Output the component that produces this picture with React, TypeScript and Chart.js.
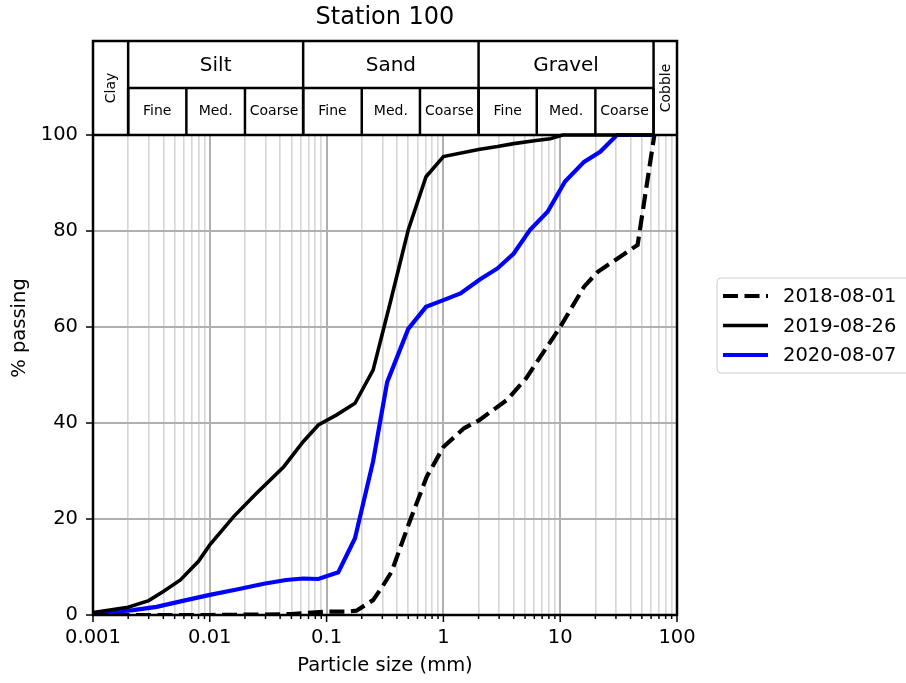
import React, { useEffect, useRef } from 'react';
import { Chart, registerables } from 'chart.js';

Chart.register(...registerables);

// ---------- data ----------
const seriesLabels = ['2018-08-01', '2019-08-26', '2020-08-07'];

const size2018 = [0.001, 0.01, 0.03, 0.05, 0.075, 0.1, 0.15, 0.18, 0.25, 0.3, 0.36, 0.52, 0.72, 1.0, 1.5, 2.0, 3.5, 5.1, 10, 16, 21, 46, 64];
const pass2018 = [0, 0, 0.1, 0.2, 0.5, 0.7, 0.7, 0.9, 3.1, 5.9, 9, 19.8, 28.8, 35, 38.9, 40.5, 44.8, 49.3, 60, 68.4, 71.5, 77.1, 100];

const size2019 = [0.001, 0.002, 0.003, 0.004, 0.0056, 0.008, 0.01, 0.016, 0.025, 0.043, 0.063, 0.085, 0.122, 0.175, 0.25, 0.35, 0.5, 0.71, 1.0, 2.0, 2.9, 4, 6, 8.2, 10.5, 64];
const pass2019 = [0.5, 1.6, 3.0, 4.9, 7.3, 11.2, 14.6, 20.5, 25.3, 30.9, 36.1, 39.6, 41.7, 44.1, 51, 65, 80.2, 91.3, 95.5, 97, 97.6, 98.2, 98.8, 99.2, 100, 100];

const size2020 = [0.001, 0.0022, 0.0035, 0.006, 0.01, 0.017, 0.029, 0.045, 0.063, 0.085, 0.126, 0.175, 0.25, 0.33, 0.5, 0.71, 1.0, 1.4, 2.05, 2.9, 4, 5.5, 7.8, 11, 16, 22, 30.6, 64];
const pass2020 = [0.3, 1.0, 1.7, 3.0, 4.2, 5.3, 6.5, 7.3, 7.6, 7.5, 8.9, 16, 32, 48.5, 59.6, 64.2, 65.6, 67, 69.9, 72.2, 75.3, 80.2, 84, 90.3, 94.4, 96.5, 100, 100];

const xMajorTicks = [0.001, 0.01, 0.1, 1, 10, 100];
const xMajorLabels = ['0.001', '0.01', '0.1', '1', '10', '100'];
const xMinorMultipliers = [2, 3, 4, 5, 6, 7, 8, 9];
const yTicks = [0, 20, 40, 60, 80, 100];

const classNames = ['Silt', 'Sand', 'Gravel'];
const classBounds = [0.002, 0.063, 2, 63];
const subNames = ['Fine', 'Med.', 'Coarse'];
const subBounds = [0.002, 0.0063, 0.02, 0.063, 0.2, 0.63, 2, 6.3, 20, 63];
const sideNames = ['Clay', 'Cobble'];
const sideBounds = [[0.001, 0.002], [63, 100]];

const titleText = 'Station 100';
const xTitle = 'Particle size (mm)';
const yTitle = '% passing';

// ---------- layout constants ----------
const W = 906;
const H = 683;
const FONT = "'DejaVu Sans', 'Liberation Sans', sans-serif";
const PX_PER_PCT = 4.8;
const HEADER_PX = 94;
const Y_MAX = 100 + HEADER_PX / PX_PER_PCT;

const isMajor = (v: number) => xMajorTicks.some((m) => Math.abs(v / m - 1) < 1e-6);

const toPoints = (xs: number[], ys: number[]) => xs.map((x, i) => ({ x, y: ys[i] }));

const headerPlugin = {
  id: 'gradationHeader',
  beforeDatasetsDraw(chart: any) {
    const { ctx, chartArea } = chart;
    const xs = chart.scales.x;
    const ys = chart.scales.y;
    const top = chartArea.top;
    const bottom = ys.getPixelForValue(100);
    const mid = (top + bottom) / 2;
    const px = (v: number) => xs.getPixelForValue(v);
    ctx.save();
    ctx.fillStyle = '#ffffff';
    ctx.fillRect(chartArea.left, top, chartArea.right - chartArea.left, bottom - top);
    ctx.strokeStyle = '#000000';
    ctx.lineWidth = 2.5;
    const line = (x1: number, y1: number, x2: number, y2: number) => {
      ctx.beginPath();
      ctx.moveTo(x1, y1);
      ctx.lineTo(x2, y2);
      ctx.stroke();
    };
    line(px(classBounds[0]), mid, px(classBounds[classBounds.length - 1]), mid);
    line(chartArea.left, bottom, chartArea.right, bottom);
    classBounds.forEach((b) => line(px(b), top, px(b), bottom));
    subBounds.forEach((b) => line(px(b), mid, px(b), bottom));

    ctx.fillStyle = '#000000';
    ctx.textAlign = 'center';
    ctx.textBaseline = 'middle';
    ctx.font = `20px ${FONT}`;
    classNames.forEach((n, i) => {
      const cx = (px(classBounds[i]) + px(classBounds[i + 1])) / 2;
      ctx.fillText(n, cx, (top + mid) / 2 + 1);
    });
    ctx.font = `14px ${FONT}`;
    for (let i = 0; i < subBounds.length - 1; i++) {
      const cx = (px(subBounds[i]) + px(subBounds[i + 1])) / 2;
      ctx.fillText(subNames[i % 3], cx, (mid + bottom) / 2);
    }
    sideNames.forEach((n, i) => {
      const cx = (px(sideBounds[i][0]) + px(sideBounds[i][1])) / 2;
      ctx.save();
      ctx.translate(cx + 1, (top + bottom) / 2);
      ctx.rotate(-Math.PI / 2);
      ctx.fillText(n, 0, 0);
      ctx.restore();
    });
    ctx.restore();
  },
  afterDraw(chart: any) {
    const { ctx, chartArea } = chart;
    const xs = chart.scales.x;
    const ys = chart.scales.y;
    ctx.save();
    ctx.strokeStyle = '#000000';
    ctx.lineWidth = 2.5;
    ctx.strokeRect(chartArea.left, chartArea.top, chartArea.right - chartArea.left, chartArea.bottom - chartArea.top);
    ctx.lineWidth = 1.5;
    xs.ticks.forEach((t: any) => {
      const p = xs.getPixelForValue(t.value);
      const len = isMajor(t.value) ? 7 : 4;
      ctx.beginPath();
      ctx.moveTo(p, chartArea.bottom);
      ctx.lineTo(p, chartArea.bottom + len);
      ctx.stroke();
    });
    ys.ticks.forEach((t: any) => {
      const p = ys.getPixelForValue(t.value);
      ctx.beginPath();
      ctx.moveTo(chartArea.left - 7, p);
      ctx.lineTo(chartArea.left, p);
      ctx.stroke();
    });
    // legend
    const lx = 717;
    const ly = 278;
    const lw = 205;
    const lh = 95;
    ctx.beginPath();
    if ((ctx as any).roundRect) (ctx as any).roundRect(lx, ly, lw, lh, 4);
    else ctx.rect(lx, ly, lw, lh);
    ctx.fillStyle = 'rgba(255,255,255,0.8)';
    ctx.fill();
    ctx.strokeStyle = '#cccccc';
    ctx.lineWidth = 1;
    ctx.stroke();
    const rowY = [296, 325.5, 355];
    ctx.font = `19.5px ${FONT}`;
    ctx.textAlign = 'left';
    ctx.textBaseline = 'middle';
    chart.data.datasets.forEach((ds: any, i: number) => {
      const y = rowY[i];
      ctx.beginPath();
      ctx.strokeStyle = ds.borderColor;
      ctx.lineWidth = ds.borderWidth;
      ctx.setLineDash(ds.borderDash || []);
      ctx.moveTo(723, y);
      ctx.lineTo(768, y);
      ctx.stroke();
      ctx.setLineDash([]);
      ctx.fillStyle = '#000000';
      ctx.fillText(ds.label, 783, y + 1);
    });
    ctx.restore();
  },
};

export default function App() {
  const canvasRef = useRef<HTMLCanvasElement | null>(null);

  useEffect(() => {
    const canvas = canvasRef.current;
    if (!canvas) return;
    Chart.defaults.font.family = FONT;
    const chart = new Chart(canvas, {
      type: 'line',
      data: {
        datasets: [
          {
            label: seriesLabels[0],
            data: toPoints(size2018, pass2018),
            borderColor: '#000000',
            borderWidth: 4.2,
            borderDash: [15, 6.5],
            pointRadius: 0,
            fill: false,
            tension: 0,
          },
          {
            label: seriesLabels[1],
            data: toPoints(size2019, pass2019),
            borderColor: '#000000',
            borderWidth: 3.6,
            pointRadius: 0,
            fill: false,
            tension: 0,
          },
          {
            label: seriesLabels[2],
            data: toPoints(size2020, pass2020),
            borderColor: '#0000ff',
            borderWidth: 4.2,
            pointRadius: 0,
            fill: false,
            tension: 0,
          },
        ],
      },
      options: {
        responsive: false,
        animation: false,
        devicePixelRatio: 1,
        layout: { padding: { left: 0, right: W - 677, top: 0, bottom: 0 } },
        plugins: {
          legend: { display: false },
          tooltip: { enabled: false },
          title: {
            display: true,
            text: titleText,
            fullSize: false,
            color: '#000000',
            font: { family: FONT, size: 24, weight: 'normal', lineHeight: 1.2 },
            padding: { top: 3, bottom: 9.2 },
          },
        },
        scales: {
          x: {
            type: 'logarithmic',
            min: 0.001,
            max: 100,
            afterBuildTicks: (scale: any) => {
              const ticks: any[] = [];
              xMajorTicks.forEach((m, i) => {
                ticks.push({ value: m, major: true });
                if (i < xMajorTicks.length - 1) {
                  xMinorMultipliers.forEach((k) => ticks.push({ value: Number((m * k).toPrecision(4)) }));
                }
              });
              scale.ticks = ticks;
            },
            afterFit: (scale: any) => {
              scale.height = 68;
            },
            ticks: {
              autoSkip: false,
              maxRotation: 0,
              minRotation: 0,
              padding: 11,
              color: '#000000',
              font: { family: FONT, size: 19.5 },
              callback: (value: any) => {
                const idx = xMajorTicks.findIndex((m) => Math.abs(Number(value) / m - 1) < 1e-6);
                return idx >= 0 ? xMajorLabels[idx] : '';
              },
            },
            grid: {
              drawTicks: false,
              color: (c: any) => (c.tick && isMajor(c.tick.value) ? '#b0b0b0' : '#d6d6d6'),
              lineWidth: (c: any) => (c.tick && isMajor(c.tick.value) ? 2 : 1.6),
            },
            border: { display: false },
            title: {
              display: true,
              text: xTitle,
              color: '#000000',
              font: { family: FONT, size: 19.5, lineHeight: 1.2 },
              padding: { top: 0, bottom: 5.3 },
            },
          },
          y: {
            type: 'linear',
            min: 0,
            max: Y_MAX,
            afterBuildTicks: (scale: any) => {
              scale.ticks = yTicks.map((v) => ({ value: v }));
            },
            afterFit: (scale: any) => {
              scale.width = 93;
            },
            ticks: {
              padding: 15,
              color: '#000000',
              font: { family: FONT, size: 19.5 },
              callback: (value: any) => String(value),
            },
            grid: {
              drawTicks: false,
              color: '#b0b0b0',
              lineWidth: 2,
            },
            border: { display: false },
            title: {
              display: true,
              text: yTitle,
              color: '#000000',
              font: { family: FONT, size: 19.5, lineHeight: 1.2 },
              padding: { top: 8.3, bottom: 0 },
            },
          },
        },
      },
      plugins: [headerPlugin],
    } as any);
    return () => chart.destroy();
  }, []);

  return (
    <div style={{ position: 'absolute', left: 0, top: 0, width: W, height: H, background: '#ffffff' }}>
      <canvas ref={canvasRef} width={W} height={H} style={{ display: 'block', width: W, height: H }} />
    </div>
  );
}
